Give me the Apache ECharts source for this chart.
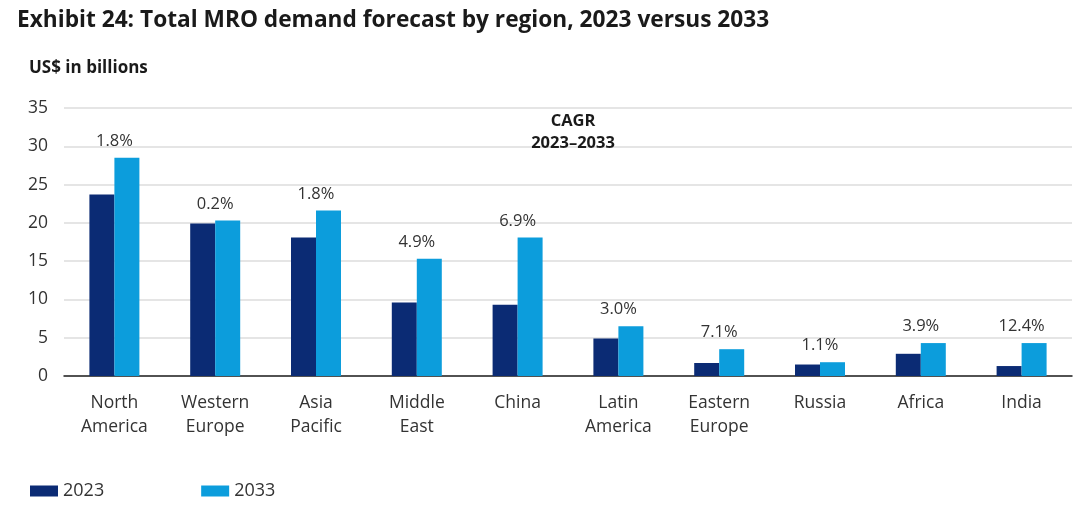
<!DOCTYPE html>
<html><head><meta charset="utf-8">
<script src="https://cdn.jsdelivr.net/npm/echarts@6/dist/echarts.min.js"></script>
<style>html,body{margin:0;padding:0;background:#fff}#c{width:1080px;height:507px}</style>
</head><body><div id="c"></div>
<script>
const categories = ["North\nAmerica","Western\nEurope","Asia\nPacific","Middle\nEast","China","Latin\nAmerica","Eastern\nEurope","Russia","Africa","India"];
const values2023 = [23.7,19.9,18.1,9.6,9.3,4.9,1.7,1.5,2.9,1.3];
const values2033 = [28.5,20.3,21.6,15.3,18.1,6.5,3.5,1.8,4.3,4.3];
const cagr = ["1.8%","0.2%","1.8%","4.9%","6.9%","3.0%","7.1%","1.1%","3.9%","12.4%"];
const yTicks = [0,5,10,15,20,25,30,35];

const FONT = "'Open Sans', 'Noto Sans', sans-serif";
const chart = echarts.init(document.getElementById('c'));
chart.setOption({
  animation:false,
  textStyle:{fontFamily:FONT},
  title:[
    {text:"Exhibit 24: Total MRO demand forecast by region, 2023 versus 2033",left:12,top:4,
     textStyle:{fontFamily:FONT,fontSize:22.7,fontWeight:'bold',color:'#1a1a1a'}},
    {text:"US$ in billions",left:24,top:55,textStyle:{fontFamily:FONT,fontSize:17,fontWeight:'bold',color:'#1a1a1a'}},
    {text:"CAGR\n2023–2033",left:568,top:105,textAlign:'center',
     textStyle:{fontFamily:FONT,fontSize:16.5,fontWeight:'bold',color:'#1a1a1a',lineHeight:22,align:'center'}}
  ],
  legend:{left:25,top:477,itemWidth:28,itemHeight:11,itemGap:97,icon:'rect',
    textStyle:{fontFamily:FONT,fontSize:18,color:'#333'},data:["2023","2033"]},
  grid:{left:64,right:8,top:108,bottom:131},
  xAxis:{type:'category',data:categories,
    axisLine:{lineStyle:{color:'#222',width:1.5}},axisTick:{show:false},
    axisLabel:{fontFamily:FONT,fontSize:17.5,color:'#333',lineHeight:24,margin:15,interval:0}},
  yAxis:{type:'value',min:yTicks[0],max:yTicks[yTicks.length-1],interval:5,
    axisLine:{show:false},axisTick:{show:false},
    axisLabel:{fontFamily:FONT,fontSize:17.5,color:'#333',margin:16},
    splitLine:{lineStyle:{color:'#dcdcdc',width:1.5}}},
  series:[
    {name:"2023",type:'bar',data:values2023,barWidth:25,barGap:'0%',itemStyle:{color:'#0b2b74'}},
    {name:"2033",type:'bar',data:values2033,barWidth:25,itemStyle:{color:'#0c9ddc'},
     label:{show:true,position:'top',distance:8,offset:[-12.5,0],
       formatter:p=>cagr[p.dataIndex],fontFamily:FONT,fontSize:16.5,color:'#333'}}
  ]
});
</script></body></html>
